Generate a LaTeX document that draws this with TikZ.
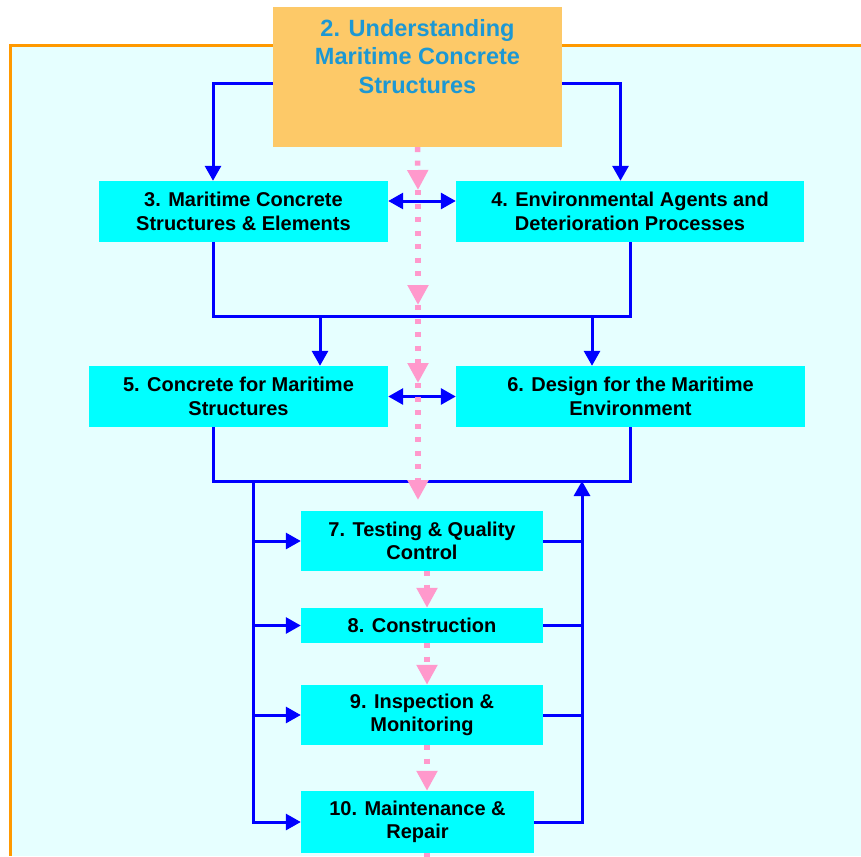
\documentclass[tikz,border=0pt]{standalone}
\usepackage{fontspec}
\setmainfont{Liberation Sans}
\usetikzlibrary{arrows.meta}
\definecolor{bgcyan}{RGB}{230,255,255}
\definecolor{boxcyan}{RGB}{0,255,255}
\definecolor{topfill}{RGB}{253,201,104}
\definecolor{titleblue}{RGB}{28,152,212}
\definecolor{frameorange}{RGB}{255,153,0}
\definecolor{linkblue}{RGB}{0,0,255}
\definecolor{flowpink}{RGB}{255,153,204}

\begin{document}
\begin{tikzpicture}[x=1pt,y=-1pt,
  chapter/.style={fill=boxcyan, inner sep=0pt, minimum height=61pt, align=center, font=\fontsize{20}{23.5}\selectfont\bfseries},
  link/.style={draw=linkblue, line width=3pt, >={Triangle[width=16pt,length=15pt]}},
  flow/.style={color=flowpink, line width=5.5pt, dash pattern=on 5pt off 8.5pt, -{Triangle[width=20pt,length=20pt]}}]
\useasboundingbox (0,0) rectangle (861,856);
\fill[bgcyan] (10.5,45.5) rectangle (861,856);
\draw[frameorange, line width=3pt] (10.5,856) -- (10.5,45.5) -- (861,45.5);

\node[fill=topfill, inner sep=0pt, minimum width=289pt, minimum height=140pt] (B2) at (417.5,77) {};
\node[font=\fontsize{23.5}{28.5}\selectfont\bfseries, text=titleblue, align=center] (T2) at (417.5,56.5) {2. Understanding\\Maritime Concrete\\Structures};
\node[chapter, minimum width=289pt] (B3) at (243.5,211.5) {3. Maritime Concrete\\Structures \& Elements};
\node[chapter, minimum width=348pt] (B4) at (630,211.5) {4. Environmental Agents and\\Deterioration Processes};
\node[chapter, minimum width=299pt] (B5) at (238.5,396.5) {5. Concrete for Maritime\\Structures};
\node[chapter, minimum width=349pt] (B6) at (630.5,396.5) {6. Design for the Maritime\\Environment};
\node[chapter, minimum width=242pt, minimum height=60pt] (B7) at (422,541) {7. Testing \& Quality\\Control};
\node[chapter, minimum width=242pt, minimum height=35pt] (B8) at (422,625.5) {8. Construction};
\node[chapter, minimum width=242pt, minimum height=60pt] (B9) at (422,715) {9. Inspection \&\\Monitoring};
\node[chapter, minimum width=233pt, minimum height=62pt] (B10) at (417.5,822) {10. Maintenance \&\\Repair};

% blue links
\draw[link,->] ([yshift=-7pt]B2.west) -| ([xshift=-30.5pt]B3.north);
\draw[link,->] ([yshift=-7pt]B2.east) -| ([xshift=-9.5pt]B4.north);
\draw[link,<->] ([yshift=10.5pt]B3.east) -- ([yshift=10.5pt]B4.west);
\draw[link] ([xshift=-30.5pt]B3.south) -- ++(0,74.5) -| (B4.south);
\draw[link,<-] ([xshift=81.5pt]B5.north) -- ++(0,-49.5);
\draw[link,<-] ([xshift=-38.5pt]B6.north) -- ++(0,-49.5);
\draw[link,<->] (B5.east) -- (B6.west);
\draw[link] ([xshift=-25.5pt]B5.south) -- ++(0,54) -| (B6.south);

\coordinate (L1) at (253,481);
\coordinate (R1) at (582,481);
\draw[link,->] (L1) |- (B10.west);
\draw[link,->] (L1 |- B7.west) -- (B7.west);
\draw[link,->] (L1 |- B8.west) -- (B8.west);
\draw[link,->] (L1 |- B9.west) -- (B9.west);
\draw[link,->] (B10.east) -| (R1);
\draw[link] (B7.east) -- (B7.east -| R1);
\draw[link] (B8.east) -- (B8.east -| R1);
\draw[link] (B9.east) -- (B9.east -| R1);

% pink flow
\coordinate (P1) at (418,190);
\coordinate (P2) at (418,305);
\coordinate (P3) at (418,383);
\coordinate (P4) at (418,500);
\draw[flow] (B2.south) -- (P1);
\draw[flow] (P1) -- (P2);
\draw[flow] (P2) -- (P3);
\draw[flow] (P3) -- (P4);
\draw[flow] ([xshift=5pt]B7.south) -- ([xshift=5pt]B8.north);
\draw[flow] ([xshift=5pt]B8.south) -- ([xshift=5pt]B9.north);
\draw[flow] ([xshift=5pt]B9.south) -- ([xshift=9.5pt]B10.north);
\draw[flow,-] ([xshift=9.5pt]B10.south) -- ++(0,10);
\end{tikzpicture}
\end{document}
